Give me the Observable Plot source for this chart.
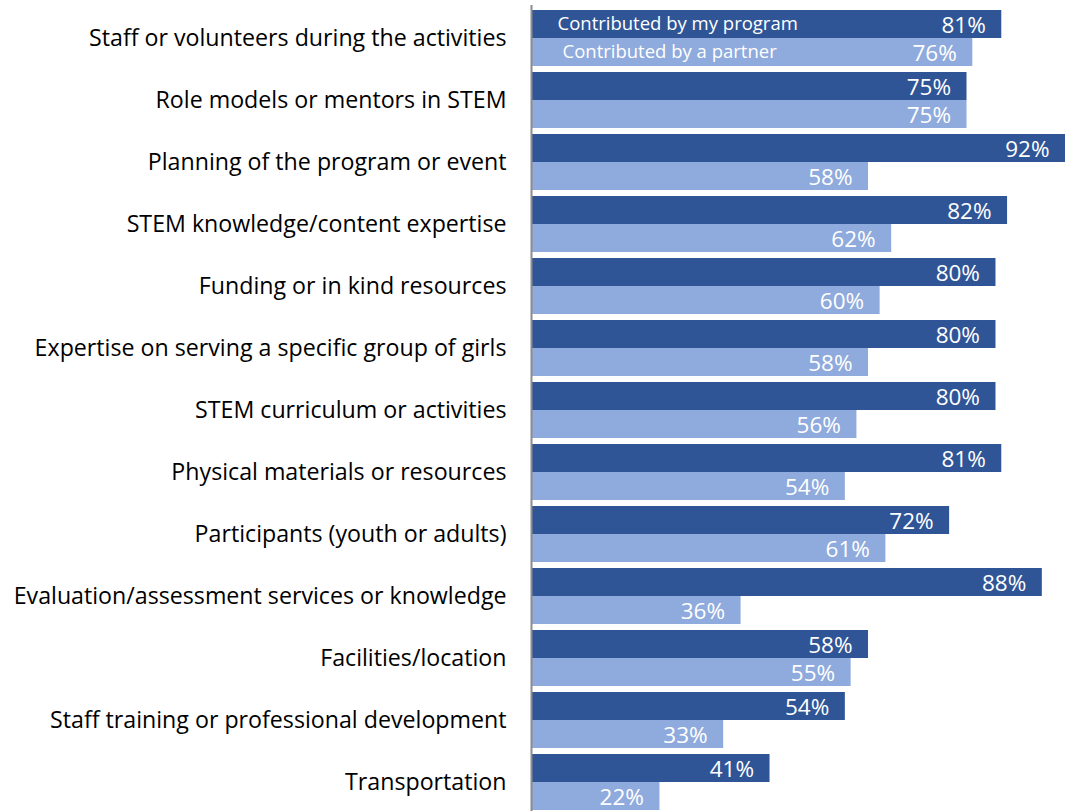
<!DOCTYPE html>
<html>
<head>
<meta charset="utf-8">
<script src="https://cdn.jsdelivr.net/npm/d3@7"></script>
<script src="https://cdn.jsdelivr.net/npm/@observablehq/plot@0.6"></script>
<style>
  html, body { margin: 0; padding: 0; background: #fff; }
  #chart svg { display: block; }
</style>
</head>
<body>
<div id="chart"></div>
<script>
const categories = [
  "Staff or volunteers during the activities",
  "Role models or mentors in STEM",
  "Planning of the program or event",
  "STEM knowledge/content expertise",
  "Funding or in kind resources",
  "Expertise on serving a specific group of girls",
  "STEM curriculum or activities",
  "Physical materials or resources",
  "Participants (youth or adults)",
  "Evaluation/assessment services or knowledge",
  "Facilities/location",
  "Staff training or professional development",
  "Transportation"
];
const myProgram = [81, 75, 92, 82, 80, 80, 80, 81, 72, 88, 58, 54, 41];
const partner   = [76, 75, 58, 62, 60, 58, 56, 54, 61, 36, 55, 33, 22];
const seriesNames = ["Contributed by my program", "Contributed by a partner"];
const colors = ["#2F5597", "#8FAADC"];

const dark = categories.map((c, i) => ({category: c, value: myProgram[i]}));
const light = categories.map((c, i) => ({category: c, value: partner[i]}));
const half = 28;

const chart = Plot.plot({
  width: 1065,
  height: 812,
  marginLeft: 532,
  marginRight: 0,
  marginTop: 8,
  marginBottom: 0,
  style: {fontFamily: "'Open Sans', sans-serif", background: "#fff"},
  x: {domain: [0, 92], axis: null},
  y: {domain: categories, paddingInner: 0.1016, paddingOuter: 0, label: null},
  marks: [
    Plot.barX(dark, {x: "value", y: "category", fill: colors[0], insetBottom: half}),
    Plot.barX(light, {x: "value", y: "category", fill: colors[1], insetTop: half}),
    Plot.text(dark, {x: "value", y: "category", text: d => d.value + "%", textAnchor: "end", dx: -16, dy: -half/2 + 1, fill: "white", fontSize: 22.5}),
    Plot.text(light, {x: "value", y: "category", text: d => d.value + "%", textAnchor: "end", dx: -16, dy: half/2 + 1, fill: "white", fontSize: 22.5}),
    Plot.text([seriesNames[0]], {x: 0, y: [categories[0]], text: d => d, textAnchor: "start", dx: 25, dy: -half/2, fill: "white", fontSize: 18.5}),
    Plot.text([seriesNames[1]], {x: 0, y: [categories[0]], text: d => d, textAnchor: "start", dx: 30, dy: half/2, fill: "white", fontSize: 18.5}),
    Plot.ruleX([0], {stroke: "#8c8c8c", strokeWidth: 2, dx: -1, insetTop: -3}),
    Plot.axisY({tickSize: 0, tickPadding: 26, fontSize: 23.2, fill: "#000", label: null})
  ]
});
document.getElementById("chart").appendChild(chart);
</script>
</body>
</html>
